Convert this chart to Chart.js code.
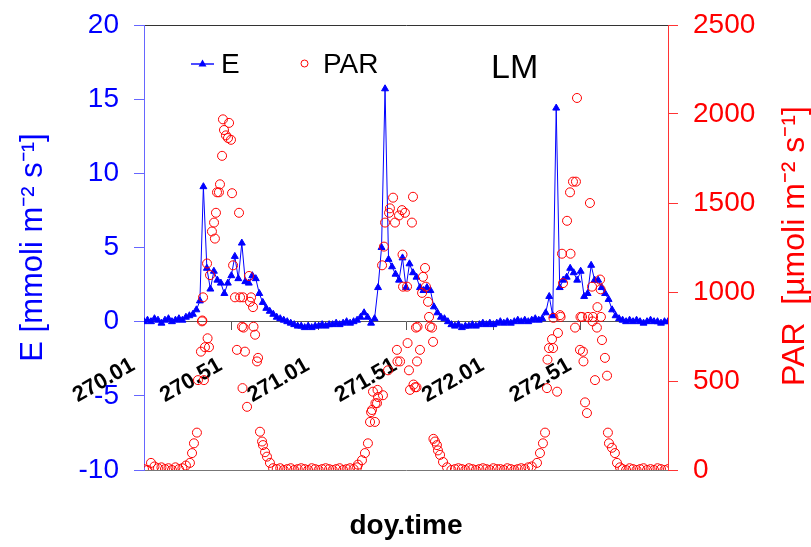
<!DOCTYPE html>
<html>
<head>
<meta charset="utf-8">
<script src="https://cdn.jsdelivr.net/npm/chart.js@4"></script>
<style>
  html, body { margin: 0; padding: 0; background: #fff; }
  canvas { display: block; }
</style>
</head>
<body>
<canvas id="chart" width="811" height="547"></canvas>
<script>
// doy.time of the E readings
const eDoy = [
    270.01, 270.03, 270.05, 270.07, 270.09, 270.11, 270.13, 270.15, 270.17, 270.19,
    270.21, 270.23, 270.25, 270.27, 270.29, 270.31, 270.33, 270.35, 270.37, 270.39,
    270.41, 270.43, 270.45, 270.47, 270.49, 270.51, 270.53, 270.55, 270.57, 270.59,
    270.61, 270.63, 270.65, 270.67, 270.69, 270.71, 270.73, 270.75, 270.77, 270.79,
    270.81, 270.83, 270.85, 270.87, 270.89, 270.91, 270.93, 270.95, 270.97, 270.99,
    271.01, 271.03, 271.05, 271.07, 271.09, 271.11, 271.13, 271.15, 271.17, 271.19,
    271.21, 271.23, 271.25, 271.27, 271.29, 271.31, 271.33, 271.35, 271.37, 271.39,
    271.41, 271.43, 271.45, 271.47, 271.49, 271.51, 271.53, 271.55, 271.57, 271.59,
    271.61, 271.63, 271.65, 271.67, 271.69, 271.71, 271.73, 271.75, 271.77, 271.79,
    271.81, 271.83, 271.85, 271.87, 271.89, 271.91, 271.93, 271.95, 271.97, 271.99,
    272.01, 272.03, 272.05, 272.07, 272.09, 272.11, 272.13, 272.15, 272.17, 272.19,
    272.21, 272.23, 272.25, 272.27, 272.29, 272.31, 272.33, 272.35, 272.37, 272.39,
    272.41, 272.43, 272.45, 272.47, 272.49, 272.51, 272.53, 272.55, 272.57, 272.59,
    272.61, 272.63, 272.65, 272.67, 272.69, 272.71, 272.73, 272.75, 272.77, 272.79,
    272.81, 272.83, 272.85, 272.87, 272.89, 272.91, 272.93, 272.95, 272.97, 272.99,
    273.01
];

// E [mmoli m-2 s-1]
const eVal = [
    0.0, 0.1, 0.0, 0.2, 0.1, -0.1, 0.1, 0.2, 0.0, 0.1,
    0.2, 0.1, 0.3, 0.4, 0.5, 0.8, 1.4, 9.1, 3.6, 2.2,
    3.4, 2.8, 2.6, 1.9, 2.6, 3.1, 4.4, 2.9, 5.3, 2.7,
    2.6, 3.1, 2.9, 1.9, 1.3, 0.9, 0.7, 0.5, 0.3, 0.2,
    0.1, 0.0, -0.1, -0.2, -0.3, -0.3, -0.4, -0.3, -0.4, -0.3,
    -0.3, -0.2, -0.3, -0.2, -0.2, -0.1, -0.2, -0.1, 0.0, -0.1,
    0.0, 0.1, 0.3, 0.6, 0.3, -0.1, 0.2, 2.3, 5.0, 15.7,
    4.2, 3.7, 3.2, 2.8, 4.3, 2.3, 3.9, 3.3, 3.0, 2.3,
    2.1, 2.3, 2.1, 1.0, 0.6, 0.3, 0.2, 0.0, -0.2, -0.3,
    -0.2, -0.4, -0.3, -0.3, -0.2, -0.3, -0.2, -0.1, -0.2, -0.1,
    -0.2, -0.1, 0.0, -0.1, 0.0, -0.1, 0.0, 0.1, 0.0, 0.1,
    0.0, 0.1, 0.2, 0.1, 0.2, 0.6, 1.7, 0.4, 14.4, 2.3,
    2.8, 3.0, 3.6, 3.3, 2.8, 3.4, 1.7, 1.9, 3.8, 2.8,
    2.8, 2.3, 1.9, 1.5, 0.8, 0.4, 0.2, 0.1, 0.0, 0.1,
    0.0, 0.1, 0.0, -0.1, 0.0, 0.1, 0.0, 0.0, -0.1, 0.0,
    0.0
];

// doy.time of the PAR readings
const parDoy = [
    270.01, 270.03, 270.05, 270.07, 270.09, 270.11, 270.13, 270.15, 270.17, 270.19, 270.21, 270.23, 270.25,
    270.273, 270.285, 270.296, 270.313, 270.319, 270.336, 270.342, 270.344, 270.348, 270.353, 270.359,
    270.371, 270.374, 270.382, 270.388, 270.399, 270.411, 270.416, 270.422, 270.428, 270.439, 270.445,
    270.457, 270.462, 270.468, 270.479, 270.491, 270.497, 270.508, 270.514, 270.520, 270.531, 270.542,
    270.554, 270.560, 270.571, 270.574, 270.577, 270.580, 270.588, 270.600, 270.611, 270.617, 270.623,
    270.634, 270.637, 270.646, 270.657, 270.663, 270.674, 270.686, 270.691, 270.703, 270.714, 270.731, 270.749,
    270.77, 270.79, 270.81, 270.83, 270.85, 270.87, 270.89, 270.91, 270.93, 270.95, 270.97, 270.99,
    271.01, 271.03, 271.05, 271.07, 271.09, 271.11, 271.13, 271.15, 271.17, 271.19, 271.21, 271.23,
    271.235, 271.258, 271.275, 271.292, 271.304, 271.310, 271.315, 271.321, 271.332, 271.335, 271.344,
    271.347, 271.350, 271.373, 271.378, 271.384, 271.390, 271.407, 271.413, 271.418, 271.436, 271.447,
    271.458, 271.461, 271.470, 271.476, 271.487, 271.490, 271.493, 271.504, 271.516, 271.519, 271.527,
    271.533, 271.544, 271.550, 271.553, 271.562, 271.567, 271.570, 271.573, 271.576, 271.590, 271.602,
    271.607, 271.619, 271.624, 271.636, 271.642, 271.647, 271.659, 271.665, 271.667, 271.676, 271.687,
    271.693, 271.705, 271.722, 271.745,
    271.77, 271.79, 271.81, 271.83, 271.85, 271.87, 271.89, 271.91, 271.93, 271.95, 271.97, 271.99,
    272.01, 272.03, 272.05, 272.07, 272.09, 272.11, 272.13, 272.15, 272.17, 272.19, 272.21, 272.23,
    272.260, 272.277, 272.294, 272.306, 272.317, 272.320, 272.329, 272.346, 272.352, 272.354, 272.375,
    272.380, 272.392, 272.395, 272.403, 272.409, 272.432, 272.449, 272.452, 272.466, 272.478, 272.483,
    272.489, 272.506, 272.509, 272.518, 272.523, 272.526, 272.535, 272.546, 272.552, 272.563, 272.575,
    272.578, 272.581, 272.592, 272.603, 272.606, 272.621, 272.624, 272.626, 272.632, 272.649, 272.661,
    272.666, 272.672, 272.689, 272.706, 272.718, 272.735,
    272.75, 272.77, 272.79, 272.81, 272.83, 272.85, 272.87, 272.89, 272.91, 272.93, 272.95, 272.97, 272.99, 273.01
];

// PAR [umoli m-2 s-1]
const parVal = [
    5, 0, 40, 20, 10, 15, 5, 10, 0, 15, 5, 10, 25,
    40, 95, 150, 210, 505, 665, 835, 840, 970, 505, 690,
    1160, 740, 690, 1095, 1340, 1390, 1300, 1445, 1560, 1560, 1605,
    1765, 1970, 1910, 1880, 1865, 1950, 1855, 1555, 1150, 970, 675,
    1445, 970, 805, 460, 970, 800, 665, 355, 1090, 945, 970,
    915, 805, 760, 610, 630, 215, 160, 140, 100, 75, 40, 10,
    5, 10, 0, 5, 10, 0, 5, 10, 5, 0, 10, 5,
    0, 5, 10, 5, 0, 5, 10, 0, 5, 10, 5, 15,
    30, 55, 95, 150, 270, 325, 337, 440, 270, 375, 375,
    450, 410, 1150, 420, 1255, 1390, 560, 1445, 1470, 1530, 1390,
    675, 610, 1430, 610, 1460, 1210, 1030, 1445, 1030, 713, 560,
    450, 1390, 1535, 480, 465, 800, 465, 610, 805, 675, 995,
    1085, 1135, 1030, 945, 860, 805, 800, 720, 175, 160, 140,
    110, 85, 45, 15,
    0, 5, 10, 5, 0, 10, 5, 0, 5, 10, 5, 0,
    10, 5, 5, 0, 10, 5, 0, 5, 10, 5, 15, 20,
    40, 95, 150, 210, 460, 620, 685, 735, 685, 855, 440,
    770, 870, 860, 1215, 1050, 1400, 1560, 1215, 1620, 800, 1620,
    2090, 675, 860, 860, 665, 610, 380, 320, 860, 1500, 1030,
    835, 860, 505, 800, 915, 1070, 1015, 860, 730, 630, 530,
    210, 150, 125, 95, 40, 15,
    5, 0, 10, 5, 0, 5, 10, 0, 5, 0, 10, 5, 0, 5
];

// labelled ticks along the E = 0 line
const xTicks = [270.01, 270.51, 271.01, 271.51, 272.01, 272.51];

const FONT = '"Liberation Sans", Arial, sans-serif';
Chart.defaults.font.family = FONT;

// legend, LM tag and right axis title (reads bottom to top)
const decor = {
    id: 'decor',
    afterDraw(chart) {
        const c = chart.ctx;
        c.save();
        c.strokeStyle = '#4d4dff';
        c.lineWidth = 2;
        c.beginPath();
        c.moveTo(191, 64);
        c.lineTo(214, 64);
        c.stroke();
        c.fillStyle = '#0000ff';
        c.beginPath();
        c.moveTo(202.5, 59.5);
        c.lineTo(206.5, 66.5);
        c.lineTo(198.5, 66.5);
        c.closePath();
        c.fill();
        c.strokeStyle = '#ff0000';
        c.lineWidth = 1;
        c.beginPath();
        c.arc(304.5, 63.5, 3.5, 0, Math.PI * 2);
        c.stroke();

        c.fillStyle = '#000';
        c.textBaseline = 'alphabetic';
        c.font = '28px ' + FONT;
        c.fillText('E', 221, 73);
        c.fillText('PAR', 323, 73);
        c.font = '34px ' + FONT;
        c.fillText('LM', 491, 78);

        c.translate(795, 246);
        c.rotate(-Math.PI / 2);
        c.textAlign = 'center';
        c.textBaseline = 'middle';
        c.fillStyle = '#ff0000';
        c.font = '32px ' + FONT;
        c.fillText('PAR  [\u00b5moli m\u207b\u00b2 s\u207b\u00b9]', 0, 0);
        c.restore();
    }
};

const ctx = document.getElementById('chart').getContext('2d');
new Chart(ctx, {
    type: 'scatter',
    data: {
        datasets: [
            {
                label: 'PAR',
                data: parDoy.map((d, i) => ({ x: d, y: parVal[i] })),
                yAxisID: 'y1',
                order: 1,
                showLine: false,
                pointStyle: 'circle',
                pointRadius: 4.5,
                borderWidth: 1,
                borderColor: '#ff0000',
                backgroundColor: 'rgba(0,0,0,0)'
            },
            {
                type: 'line',
                label: 'E',
                data: eDoy.map((d, i) => ({ x: d, y: eVal[i] })),
                yAxisID: 'y',
                order: 2,
                borderColor: '#0000ff',
                borderWidth: 1,
                tension: 0,
                pointStyle: 'triangle',
                pointRadius: 4,
                pointBorderWidth: 1,
                pointBackgroundColor: '#0000ff',
                pointBorderColor: '#0000ff'
            }
        ]
    },
    options: {
        responsive: false,
        animation: false,
        layout: { padding: 0 },
        plugins: { legend: { display: false }, tooltip: { enabled: false } },
        scales: {
            x: {
                type: 'linear',
                position: { y: 0 },
                min: 270.01,
                max: 273.01,
                afterBuildTicks: s => { s.ticks = xTicks.map(v => ({ value: v })); },
                ticks: {
                    autoSkip: false,
                    minRotation: 30,
                    maxRotation: 30,
                    padding: 15,
                    labelOffset: -11,
                    color: '#000',
                    font: { size: 22, weight: 'bold', lineHeight: 2 },
                    callback: v => v.toFixed(2)
                },
                grid: { display: true, drawOnChartArea: false, tickLength: 8, tickColor: '#555', color: '#555' },
                border: { display: true, color: '#555', width: 1 }
            },
            xt: {
                type: 'linear',
                position: 'top',
                min: 270.01,
                max: 273.01,
                ticks: { display: false },
                grid: { display: false },
                border: { display: true, color: '#333' },
                afterFit: s => { s.height = 25; }
            },
            xb: {
                type: 'linear',
                position: 'bottom',
                min: 270.01,
                max: 273.01,
                ticks: { display: false },
                grid: { display: false },
                border: { display: true, color: '#777' },
                title: { display: true, text: 'doy.time', color: '#000', font: { size: 28, weight: 'bold' }, padding: { top: 0, bottom: 4 } },
                afterFit: s => { s.height = 77; }
            },
            y: {
                position: 'left',
                min: -10,
                max: 20,
                ticks: { stepSize: 5, color: '#0000ff', padding: 15, font: { size: 28, lineHeight: 0.7 } },
                grid: { drawOnChartArea: false, tickLength: 10, tickColor: '#6666ff', color: '#6666ff' },
                border: { color: '#6666ff' },
                title: { display: true, text: 'E [mmoli m\u207b\u00b2 s\u207b\u00b9]', color: '#0000ff', font: { size: 31 }, padding: { top: 15, bottom: 0 } },
                afterFit: s => { s.width = 144; }
            },
            y1: {
                position: 'right',
                min: 0,
                max: 2500,
                ticks: { stepSize: 500, color: '#ff0000', padding: 15, font: { size: 28, lineHeight: 0.7 }, callback: v => String(v) },
                grid: { drawOnChartArea: false, tickLength: 10, tickColor: '#ff3333', color: '#ff3333' },
                border: { color: '#ff3333' },
                afterFit: s => { s.width = 143; }
            }
        }
    },
    plugins: [decor]
});
</script>
</body>
</html>
